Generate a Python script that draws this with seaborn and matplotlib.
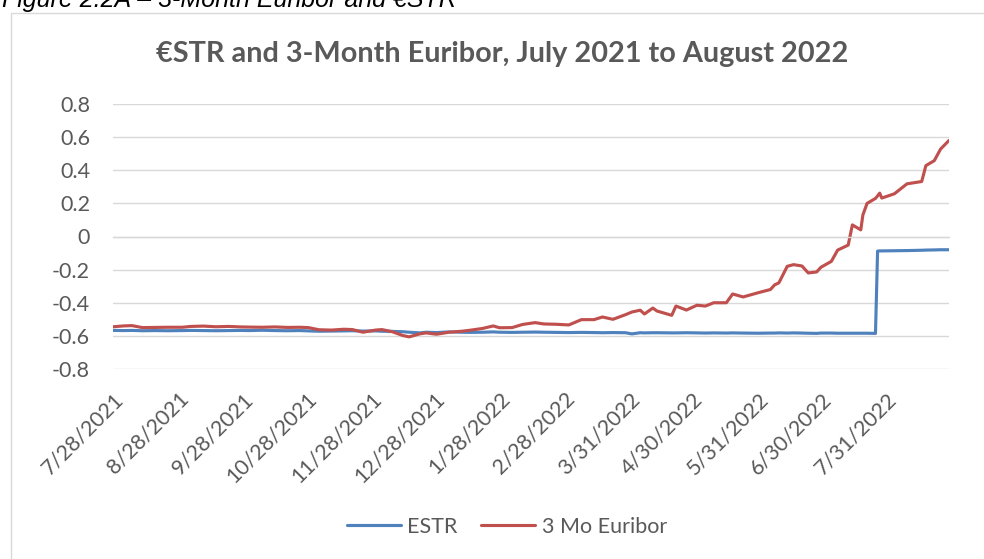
import pandas as pd
import numpy as np
import matplotlib.pyplot as plt
import seaborn as sns
from matplotlib.patches import Rectangle

# Data (roughly weekly, plus the turning points)
dates = [
    '2021-07-28', '2021-08-02', '2021-08-06', '2021-08-11', '2021-08-17', '2021-08-23',
    '2021-08-30', '2021-09-03', '2021-09-09', '2021-09-15', '2021-09-21', '2021-09-27',
    '2021-10-01', '2021-10-07', '2021-10-13', '2021-10-19', '2021-10-25', '2021-10-29',
    '2021-11-03', '2021-11-09', '2021-11-15', '2021-11-19', '2021-11-24', '2021-11-30',
    '2021-12-03', '2021-12-08', '2021-12-13', '2021-12-16', '2021-12-21', '2021-12-24',
    '2021-12-29', '2022-01-04', '2022-01-10', '2022-01-14', '2022-01-20', '2022-01-25',
    '2022-01-28', '2022-02-03', '2022-02-08', '2022-02-14', '2022-02-18', '2022-02-24',
    '2022-03-02', '2022-03-08', '2022-03-14', '2022-03-18', '2022-03-23', '2022-03-29',
    '2022-04-01', '2022-04-05', '2022-04-07', '2022-04-11', '2022-04-13', '2022-04-20',
    '2022-04-22', '2022-04-27', '2022-05-02', '2022-05-06', '2022-05-10', '2022-05-16',
    '2022-05-19', '2022-05-24', '2022-05-31', '2022-06-06', '2022-06-08', '2022-06-10',
    '2022-06-14', '2022-06-17', '2022-06-21', '2022-06-24', '2022-06-28', '2022-06-30',
    '2022-07-05', '2022-07-08', '2022-07-13', '2022-07-15', '2022-07-19', '2022-07-20',
    '2022-07-22', '2022-07-26', '2022-07-27', '2022-07-28', '2022-07-29', '2022-08-04',
    '2022-08-10', '2022-08-17', '2022-08-19', '2022-08-23', '2022-08-26', '2022-08-30',
]

estr = [
    -0.567, -0.568, -0.567, -0.569, -0.568, -0.569,
    -0.568, -0.567, -0.568, -0.569, -0.568, -0.567,
    -0.568, -0.566, -0.568, -0.569, -0.568, -0.570,
    -0.572, -0.571, -0.570, -0.569, -0.571, -0.570,
    -0.572, -0.573, -0.575, -0.578, -0.582, -0.578,
    -0.580, -0.576, -0.578, -0.579, -0.578, -0.576,
    -0.578, -0.579, -0.578, -0.577, -0.578, -0.579,
    -0.580, -0.579, -0.580, -0.581, -0.580, -0.581,
    -0.588, -0.581, -0.582, -0.581, -0.581, -0.582,
    -0.582, -0.581, -0.582, -0.583, -0.582, -0.583,
    -0.582, -0.583, -0.584, -0.583, -0.583, -0.582,
    -0.583, -0.582, -0.583, -0.584, -0.585, -0.583,
    -0.583, -0.584, -0.584, -0.584, -0.584, -0.584,
    -0.584, -0.585, -0.088, -0.087, -0.087, -0.086,
    -0.085, -0.083, -0.082, -0.081, -0.080, -0.080,
]

euribor = [
    -0.545, -0.540, -0.538, -0.550, -0.549, -0.548,
    -0.548, -0.543, -0.541, -0.545, -0.543, -0.546,
    -0.547, -0.548, -0.546, -0.549, -0.548, -0.550,
    -0.563, -0.565, -0.560, -0.562, -0.578, -0.565,
    -0.562, -0.575, -0.598, -0.606, -0.588, -0.582,
    -0.590, -0.578, -0.572, -0.566, -0.555, -0.540,
    -0.551, -0.550, -0.531, -0.520, -0.528, -0.530,
    -0.534, -0.502, -0.502, -0.486, -0.500, -0.472,
    -0.456, -0.445, -0.468, -0.432, -0.450, -0.476,
    -0.420, -0.444, -0.415, -0.420, -0.400, -0.400,
    -0.347, -0.365, -0.340, -0.320, -0.292, -0.280,
    -0.180, -0.170, -0.178, -0.220, -0.214, -0.186,
    -0.150, -0.082, -0.052, 0.070, 0.040, 0.130,
    0.200, 0.230, 0.245, 0.262, 0.232, 0.258,
    0.318, 0.332, 0.428, 0.458, 0.528, 0.580,
]

tick_dates = ['2021-07-28', '2021-08-28', '2021-09-28', '2021-10-28', '2021-11-28',
              '2021-12-28', '2022-01-28', '2022-02-28', '2022-03-31', '2022-04-30',
              '2022-05-31', '2022-06-30', '2022-07-31']
tick_labels = ['7/28/2021', '8/28/2021', '9/28/2021', '10/28/2021', '11/28/2021',
               '12/28/2021', '1/28/2022', '2/28/2022', '3/31/2022', '4/30/2022',
               '5/31/2022', '6/30/2022', '7/31/2022']
y_ticks = [-0.8, -0.6, -0.4, -0.2, 0, 0.2, 0.4, 0.6, 0.8]
y_labels = ['-0.8', '-0.6', '-0.4', '-0.2', '0', '0.2', '0.4', '0.6', '0.8']

df = pd.DataFrame({'Date': pd.to_datetime(dates), 'ESTR': estr, '3 Mo Euribor': euribor})

sns.set_style('white')
plt.rcParams['font.family'] = ['Lato', 'DejaVu Sans']

text_col = '#595959'
grid_col = '#D9D9D9'

fig = plt.figure(figsize=(9.84, 5.59), dpi=100)
ax = fig.add_axes([113 / 984, 1 - 369 / 559, 836 / 984, 265 / 559])

sns.lineplot(data=df, x='Date', y='ESTR', ax=ax, color='#4F81BD', lw=2.25, label='ESTR')
sns.lineplot(data=df, x='Date', y='3 Mo Euribor', ax=ax, color='#C0504D', lw=2.25, label='3 Mo Euribor')

ax.set_xlim(pd.Timestamp('2021-07-28'), pd.Timestamp('2022-08-30'))
ax.set_ylim(-0.8, 0.8)
ax.set_yticks(y_ticks)
ax.set_yticklabels(y_labels)
ax.grid(axis='y', color=grid_col, lw=1.0)
ax.set_axisbelow(True)
ax.set_xlabel('')
ax.set_ylabel('')

for s in ['left', 'top', 'right']:
    ax.spines[s].set_visible(False)
ax.spines['bottom'].set_position(('data', 0))
ax.spines['bottom'].set_color(grid_col)
ax.spines['bottom'].set_linewidth(1.0)

ax.set_xticks(pd.to_datetime(tick_dates))
ax.set_xticklabels(tick_labels)
ax.tick_params(axis='x', direction='out', length=3.6, width=1.0, color=grid_col,
               labelsize=15.5, labelcolor=text_col, pad=106)
ax.tick_params(axis='y', length=0, labelsize=15.5, labelcolor=text_col, pad=16.5)
for lab in ax.get_xticklabels():
    lab.set_rotation(45)
    lab.set_ha('right')
    lab.set_va('top')
    lab.set_rotation_mode('anchor')

ax.get_legend().remove()
handles, labels = ax.get_legend_handles_labels()
fig.legend(handles, labels, loc='center', bbox_to_anchor=(507 / 984, 1 - 527 / 559),
           ncol=2, frameon=False, fontsize=15.5, handlelength=2.5, handletextpad=0.3,
           columnspacing=1.1, labelcolor=text_col)

fig.text(502 / 984, 1 - 62 / 559, '€STR and 3-Month Euribor, July 2021 to August 2022',
         ha='center', va='baseline', fontsize=20.8, fontweight='bold', color=text_col)

# caption above the chart box, cut off by the top edge
fig.text(2 / 984, 1 - 7 / 559, 'Figure 2.2A – 3-Month Euribor and €STR', ha='left',
         va='baseline', fontsize=18, style='italic', family='Liberation Sans', color='black')

# chart outline
fig.patches.append(Rectangle((11 / 984, -0.1), 1.2, 1 - 13 / 559 + 0.1, transform=fig.transFigure,
                             fill=False, ec=grid_col, lw=1.0))

plt.savefig('out.png', dpi=100)
